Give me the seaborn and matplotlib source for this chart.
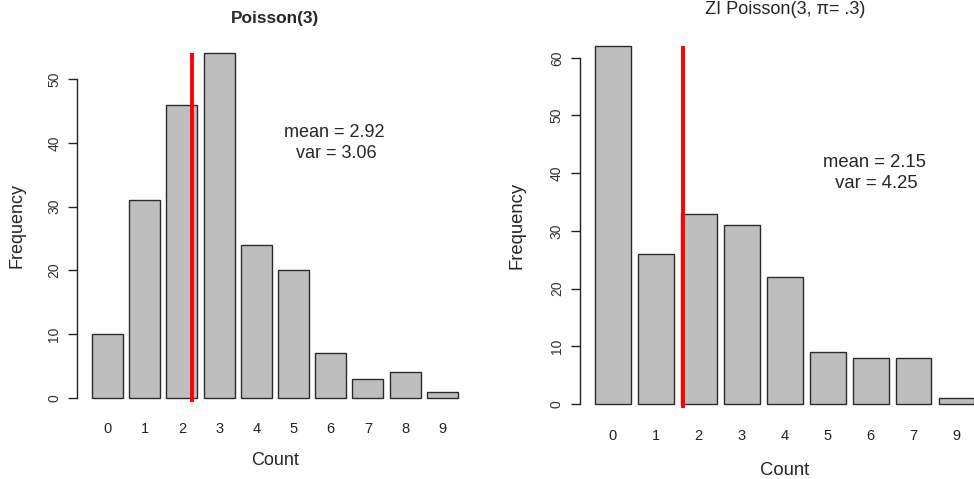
import matplotlib
matplotlib.use("Agg")
import matplotlib.pyplot as plt
import seaborn as sns
import pandas as pd

# ---- data ----
left_counts = ["0", "1", "2", "3", "4", "5", "6", "7", "8", "9"]
left_freq = [10, 31, 46, 54, 24, 20, 7, 3, 4, 1]
left_mean = 2.92
left_var = 3.06
left_title = "Poisson(3)"
left_yticks = [0, 10, 20, 30, 40, 50]

right_counts = ["0", "1", "2", "3", "4", "5", "6", "7", "9"]
right_freq = [62, 26, 33, 31, 22, 9, 8, 8, 1]
right_mean = 2.15
right_var = 4.25
right_title = "ZI Poisson(3, π= .3)"
right_yticks = [0, 10, 20, 30, 40, 50, 60]

sns.set_style("white")
plt.rcParams["font.family"] = ["Liberation Sans", "DejaVu Sans"]

fig = plt.figure(figsize=(9.74, 4.79), dpi=100)
W, H = 974, 479


def px_axes(x0, x1, ytop, ybot):
    return [x0 / W, (H - ybot) / H, (x1 - x0) / W, (ybot - ytop) / H]


axL = fig.add_axes(px_axes(77.4, 472.4, 39.7, 411.8))
axR = fig.add_axes(px_axes(579.8, 989.6, 31.9, 418.3))


def r_to_cat(u):
    # R barplot coordinate (bar i centred at 0.7 + 1.2 i) -> category index
    return (u - 0.7) / 1.2


def draw(ax, counts, freq, mean, var, title, yticks, title_bold, fs, xlab_y, xpad):
    df = pd.DataFrame({"Count": counts, "Frequency": freq})
    sns.barplot(data=df, x="Count", y="Frequency", order=counts,
                color="#BEBEBE", saturation=1, width=1 / 1.2,
                edgecolor="#2b2b2b", linewidth=1.0, ax=ax)
    n = len(counts)
    ymax = max(freq)
    ax.set_xlim(r_to_cat(0.2 - 0.04 * (1.2 * n - 0.2)), r_to_cat(1.2 * n + 0.04 * (1.2 * n - 0.2)))
    ax.set_ylim(-0.04 * ymax, ymax * 1.04)
    # red line at mean (R's abline at mean + 0.5 in bar coordinates)
    ax.vlines(r_to_cat(mean + 0.5), -0.011 * ymax, ymax, color="red", lw=2.8, zorder=5)
    ax.text(r_to_cat(8), 40, f"mean = {mean:.2f}\n var = {var:.2f}",
            ha="center", va="center", fontsize=fs, linespacing=1.3)
    for s in ["top", "right", "bottom"]:
        ax.spines[s].set_visible(False)
    ax.spines["left"].set_color("#222222")
    ax.spines["left"].set_linewidth(1.0)
    ax.spines["left"].set_bounds(yticks[0], yticks[-1])
    ax.set_yticks(yticks)
    ax.set_yticklabels([str(t) for t in yticks], rotation=90, va="center", fontsize=10, color="#333333")
    ax.tick_params(axis="y", length=6.5, width=1.0, color="#222222", pad=5, left=True)
    ax.tick_params(axis="x", length=0, pad=xpad, labelsize=10.5, labelcolor="#222222")
    ax.set_xlabel("Count", fontsize=fs)
    ax.set_ylabel("Frequency", fontsize=fs)
    ax.xaxis.label.set_va("center")
    ax.yaxis.label.set_va("center")
    ax.yaxis.set_label_coords(-0.153, 0.5)
    ax.xaxis.set_label_coords(0.5, xlab_y)
    ax.set_title(title, fontsize=fs - (0.6 if title_bold else 0.2),
                 fontweight="bold" if title_bold else "normal",
                 y=1.057, va="center", pad=0)


draw(axL, left_counts, left_freq, left_mean, left_var, left_title, left_yticks, True, 13, -0.132, 7)
draw(axR, right_counts, right_freq, right_mean, right_var, right_title, right_yticks, False, 13.3, -0.134, 7.5)

fig.savefig("out.png", dpi=100)
